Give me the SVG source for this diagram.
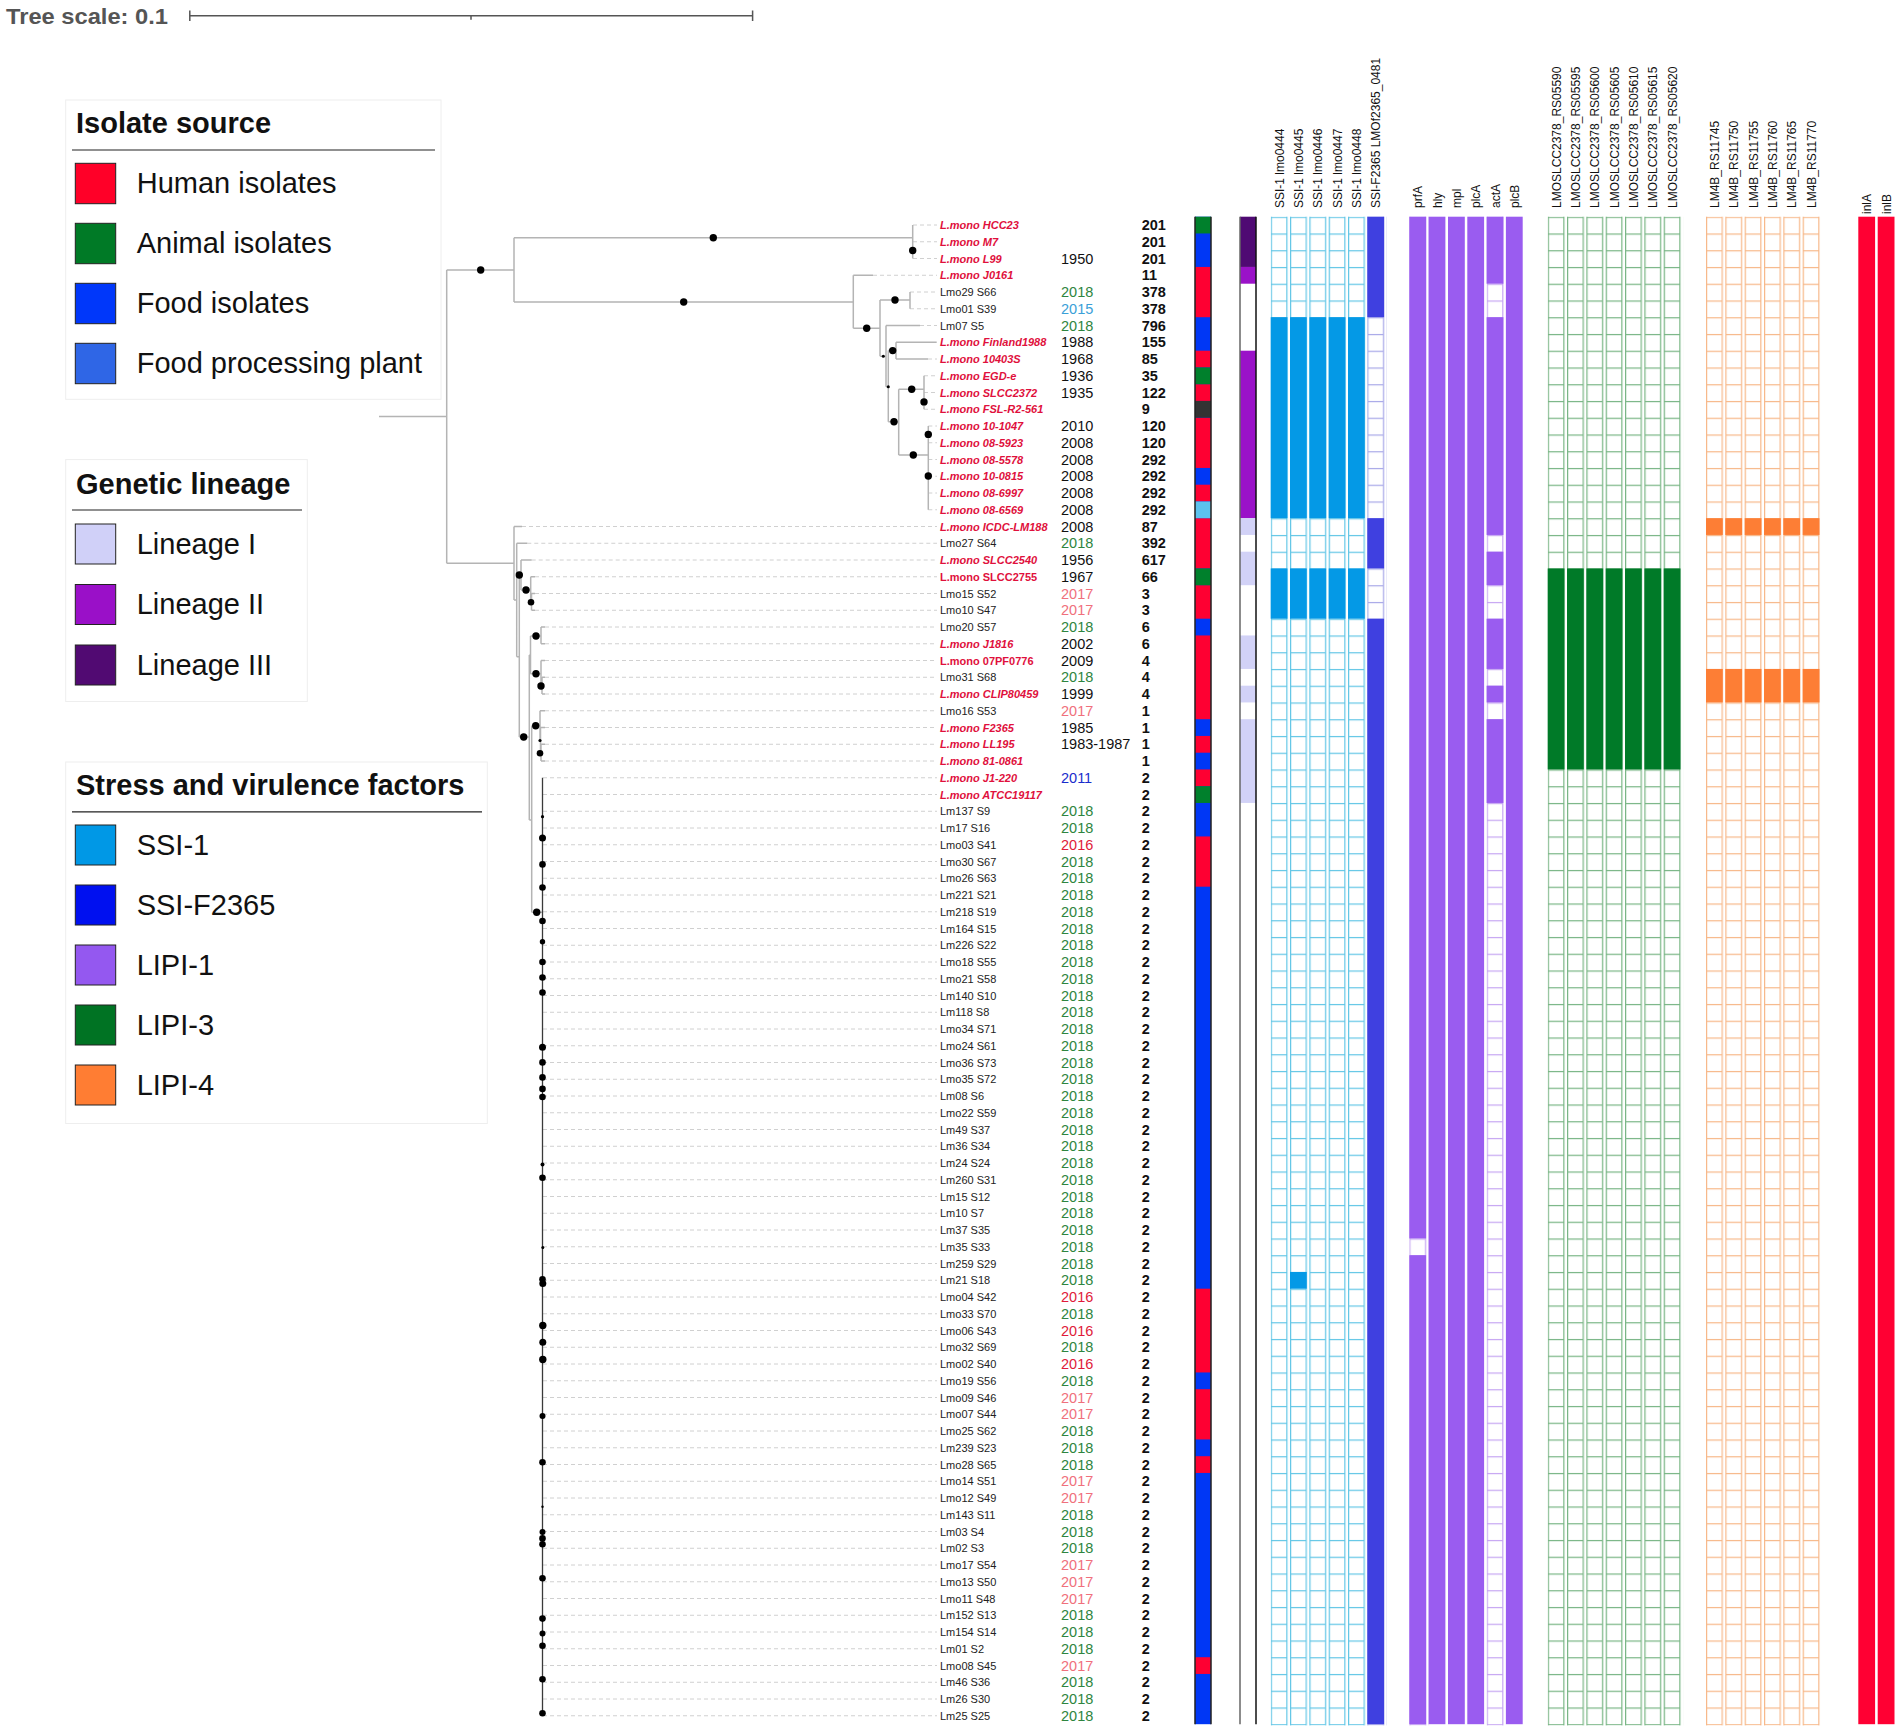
<svg xmlns="http://www.w3.org/2000/svg" width="1901" height="1732" viewBox="0 0 1901 1732">
<style>
text{font-family:"Liberation Sans",Arial,sans-serif}
.lr{font-size:11px;font-weight:bold;font-style:italic;fill:#e0103c}
.lu{font-size:11px;font-weight:bold;fill:#e0103c}
.lk{font-size:11px;fill:#222}
.yr{font-size:14.5px;fill:#111}
.g{fill:#2e8540}.p{fill:#f0707c}.r{fill:#e01a3a}.c{fill:#3aa0d8}.b{fill:#1a2ccc}
.st{font-size:14.5px;font-weight:bold;fill:#111}
.hd{font-size:12px;fill:#111}
.lt{font-size:29px;font-weight:bold;fill:#111}
.ll{font-size:29px;fill:#111}
.sw{stroke:#222;stroke-width:1}
</style>
<defs>
<pattern id="pSSI" patternUnits="userSpaceOnUse" x="1270.7" y="216.7" width="19.333" height="16.75"><rect x="0.6" y="0.6" width="15.6" height="16.75" fill="#fff" stroke="#62c6e6" stroke-width="1.2"/></pattern>
<pattern id="pF" patternUnits="userSpaceOnUse" x="1367.3" y="216.7" width="19.333" height="16.75"><rect x="0.6" y="0.6" width="15.6" height="16.75" fill="#fff" stroke="#a8a8e8" stroke-width="1.2"/></pattern>
<pattern id="pL1" patternUnits="userSpaceOnUse" x="1409.3" y="216.7" width="19.333" height="16.75"><rect x="0.6" y="0.6" width="15.6" height="16.75" fill="#fff" stroke="#c6a6f2" stroke-width="1.2"/></pattern>
<pattern id="pL3" patternUnits="userSpaceOnUse" x="1547.7" y="216.7" width="19.333" height="16.75"><rect x="0.6" y="0.6" width="15.6" height="16.75" fill="#fff" stroke="#78b584" stroke-width="1.2"/></pattern>
<pattern id="pL4" patternUnits="userSpaceOnUse" x="1706" y="216.7" width="19.333" height="16.75"><rect x="0.6" y="0.6" width="15.6" height="16.75" fill="#fff" stroke="#f7b889" stroke-width="1.2"/></pattern>
</defs>
<rect width="1901" height="1732" fill="#fff"/>

<g id="scale">
<text x="6" y="23.5" font-size="22" font-weight="bold" fill="#555" textLength="162" lengthAdjust="spacingAndGlyphs">Tree scale: 0.1</text>
<path d="M189.8,15.7H752.6M189.8,10.5V21M752.6,10.5V21M471,15.7V19.8" stroke="#555" stroke-width="1.5" fill="none"/>
</g>

<g id="legend-source">
<rect x="65.7" y="100" width="375.3" height="299.3" fill="#fff" stroke="#eee"/>
<text class="lt" x="76" y="133">Isolate source</text>
<path d="M72,150H435" stroke="#222" stroke-width="1.2"/>
<rect class="sw" x="75.3" y="163.3" width="40.4" height="40.4" fill="#ff0028"/>
<rect class="sw" x="75.3" y="223.3" width="40.4" height="40.4" fill="#007a26"/>
<rect class="sw" x="75.3" y="283.3" width="40.4" height="40.4" fill="#0037fa"/>
<rect class="sw" x="75.3" y="343.3" width="40.4" height="40.4" fill="#2f66e6"/>
<text class="ll" x="136.7" y="193">Human isolates</text>
<text class="ll" x="136.7" y="253">Animal isolates</text>
<text class="ll" x="136.7" y="313">Food isolates</text>
<text class="ll" x="136.7" y="373">Food processing plant</text>
</g>
<g id="legend-lineage">
<rect x="65.7" y="459.6" width="241.6" height="241.9" fill="#fff" stroke="#eee"/>
<text class="lt" x="76" y="493.6">Genetic lineage</text>
<path d="M72,510H302" stroke="#222" stroke-width="1.2"/>
<rect class="sw" x="75.3" y="524" width="40.4" height="40" fill="#d0d0f8"/>
<rect class="sw" x="75.3" y="584.5" width="40.4" height="40" fill="#9a10c8"/>
<rect class="sw" x="75.3" y="645" width="40.4" height="40" fill="#510a72"/>
<text class="ll" x="136.7" y="553.5">Lineage I</text>
<text class="ll" x="136.7" y="614">Lineage II</text>
<text class="ll" x="136.7" y="674.5">Lineage III</text>
</g>
<g id="legend-factors">
<rect x="65.7" y="762" width="421.6" height="361.5" fill="#fff" stroke="#eee"/>
<text class="lt" x="76" y="795.2">Stress and virulence factors</text>
<path d="M72,811.8H482" stroke="#222" stroke-width="1.2"/>
<rect class="sw" x="75.3" y="825" width="40.4" height="40" fill="#0098e6"/>
<rect class="sw" x="75.3" y="885" width="40.4" height="40" fill="#0010f0"/>
<rect class="sw" x="75.3" y="945" width="40.4" height="40" fill="#9458f0"/>
<rect class="sw" x="75.3" y="1005" width="40.4" height="40" fill="#007323"/>
<rect class="sw" x="75.3" y="1065" width="40.4" height="40" fill="#ff7d33"/>
<text class="ll" x="136.7" y="854.5">SSI-1</text>
<text class="ll" x="136.7" y="914.5">SSI-F2365</text>
<text class="ll" x="136.7" y="974.5">LIPI-1</text>
<text class="ll" x="136.7" y="1034.5">LIPI-3</text>
<text class="ll" x="136.7" y="1094.5">LIPI-4</text>
</g>

<g id="connectors">
<path fill="none" stroke="#d0d0d0" stroke-width="1" stroke-dasharray="4,3" d="M913,225H937M913,241.75H937M913,258.5H937M873,275.25H937M910,292H937M910,308.75H937M920,325.5H937M928,359H937M924,375.75H937M924,392.5H937M924,409.25H937M928.3,426H937M928.3,442.75H937M928.3,459.5H937M928.3,476.25H937M928.3,493H937M928.3,509.75H937M522,526.5H937M527.3,543.25H937M531.7,560H937M535,576.75H937M535,593.5H937M535,610.25H937M545,627H937M545,643.75H937M545,660.5H937M545,677.25H937M545,694H937M545,710.75H937M545,727.5H937M545,744.25H937M545,761H937M543,777.75H937M543,794.5H937M543,811.25H937M543,828H937M543,844.75H937M543,861.5H937M543,878.25H937M543,895H937M543,911.75H937M543,928.5H937M543,945.25H937M543,962H937M543,978.75H937M543,995.5H937M543,1012.25H937M543,1029H937M543,1045.75H937M543,1062.5H937M543,1079.25H937M543,1096H937M543,1112.75H937M543,1129.5H937M543,1146.25H937M543,1163H937M543,1179.75H937M543,1196.5H937M543,1213.25H937M543,1230H937M543,1246.75H937M543,1263.5H937M543,1280.25H937M543,1297H937M543,1313.75H937M543,1330.5H937M543,1347.25H937M543,1364H937M543,1380.75H937M543,1397.5H937M543,1414.25H937M543,1431H937M543,1447.75H937M543,1464.5H937M543,1481.25H937M543,1498H937M543,1514.75H937M543,1531.5H937M543,1548.25H937M543,1565H937M543,1581.75H937M543,1598.5H937M543,1615.25H937M543,1632H937M543,1648.75H937M543,1665.5H937M543,1682.25H937M543,1699H937M543,1715.75H937"/>
<path fill="none" stroke="#b4b4b4" stroke-width="1.5" d="M379,416.5H446.7M446.7,270V563.3M446.7,270H514M514,237.7V302M514,237.7H912.7M912.7,225V258.5M514,302H853.3M853.3,275.25V328.3M853.3,275.25H873M853.3,328.3H880M880,300V356.3M880,300H910M910,292V308.75M880,356.3H886M886,325.5V386.7M886,325.5H920M886,386.7H888.3M888.3,350.6V421.7M888.3,350.6H896M896,342.25V359M896,342.25H936.7M896,359H928M888.3,421.7H898.7M898.7,389.3V455M898.7,389.3H924M924,375.75V409.25M898.7,455H928.3M928.3,426V509.75"/>
<path fill="none" stroke="#b4b4b4" stroke-width="1.5" d="M446.7,563.3H514M514,526.5V600M514,526.5H522M514,600H516.7M516.7,543.25V656.7M516.7,543.25H527.3M516.7,656.7H519.3M519.3,575V737M519.3,575H521M521,560V590M521,560H531.7M521,590H530.7M530.7,576.75V602.3M530.7,576.75H535M530.7,602.3H531.5M531.5,593.5V610.25M531.5,593.5H535M531.5,610.25H535M519.3,737H529.3M529.3,655V820M529.3,655H530.5M530.5,636V673.7M530.5,636H541M541,627V643.75M541,627H545M541,643.75H545M530.5,673.7H541M541,660.5V685.6M541,660.5H545M541,685.6H542M542,677.25V694M542,677.25H545M542,694H545M529.3,820H531.7M531.7,725.7V912.3M531.7,725.7H540M540,710.75V740.3M540,710.75H545M540,740.3H540.5M540.5,727.5V752.6M540.5,727.5H545M540.5,752.6H541M541,744.25V761M541,744.25H545M541,761H545M531.7,912.3H542.5"/>
<path fill="none" stroke="#3a3a3a" stroke-width="1.3" d="M542.5,777.75V1715.75"/>
<g fill="#000">
<circle cx="480.7" cy="270" r="3.7"/><circle cx="713.3" cy="237.7" r="3.7"/><circle cx="912.7" cy="250.5" r="3.7"/><circle cx="683.7" cy="302" r="3.7"/><circle cx="866.7" cy="328.3" r="3.7"/><circle cx="895" cy="300" r="3.7"/><circle cx="883.3" cy="356.3" r="1.5"/><circle cx="892.7" cy="350.6" r="3.7"/><circle cx="888.3" cy="386.7" r="1.5"/><circle cx="894" cy="421.7" r="3.7"/><circle cx="911.7" cy="389.3" r="3.7"/><circle cx="924" cy="401.9" r="3.7"/><circle cx="913.3" cy="455" r="3.7"/><circle cx="928.3" cy="434.4" r="3.7"/><circle cx="928.3" cy="476" r="3.7"/>
<circle cx="519.3" cy="575" r="3.7"/><circle cx="526" cy="590" r="3.7"/><circle cx="531" cy="602.3" r="3.3"/><circle cx="536" cy="636" r="3.7"/><circle cx="536" cy="673.7" r="3.7"/><circle cx="541" cy="686" r="3.7"/><circle cx="535.7" cy="725.7" r="3.7"/><circle cx="540" cy="740.5" r="1.6"/><circle cx="540" cy="753.3" r="3.3"/><circle cx="523.7" cy="737" r="3.7"/><circle cx="536.7" cy="912.3" r="3.7"/>
<circle cx="542.5" cy="816.7" r="1.6"/><circle cx="542.5" cy="838" r="3.5"/><circle cx="542.5" cy="864.4" r="3.3"/><circle cx="542.5" cy="887.5" r="3.3"/><circle cx="542.5" cy="921" r="3.3"/><circle cx="542.5" cy="941.8" r="2.7"/><circle cx="542.5" cy="962" r="3.3"/><circle cx="542.5" cy="977.5" r="3.3"/><circle cx="542.5" cy="992.5" r="3.3"/><circle cx="542.5" cy="1047.3" r="3.5"/><circle cx="542.5" cy="1062.4" r="3.3"/><circle cx="542.5" cy="1077.4" r="3.3"/><circle cx="542.5" cy="1088.9" r="3.3"/><circle cx="542.5" cy="1097" r="3.3"/><circle cx="542.5" cy="1164.5" r="2"/><circle cx="542.5" cy="1177.8" r="3.3"/><circle cx="542.8" cy="1247.6" r="1.5"/><circle cx="542.5" cy="1279.3" r="3.3"/><circle cx="542.8" cy="1283.4" r="3.5"/><circle cx="542.8" cy="1325.5" r="3.7"/><circle cx="542.8" cy="1342.2" r="3.5"/><circle cx="542.8" cy="1359.5" r="3.7"/><circle cx="542.5" cy="1416" r="3"/><circle cx="542.5" cy="1462.3" r="3.3"/><circle cx="542.5" cy="1506.7" r="1.2"/><circle cx="542.5" cy="1532" r="3"/><circle cx="542.5" cy="1538.4" r="3.3"/><circle cx="542.5" cy="1544.2" r="3.3"/><circle cx="542.5" cy="1578.2" r="3.3"/><circle cx="542.5" cy="1618.6" r="3.3"/><circle cx="542.5" cy="1633.6" r="3"/><circle cx="542.5" cy="1645.7" r="3.3"/><circle cx="542.5" cy="1679.2" r="3.3"/><circle cx="542.5" cy="1713.2" r="3.3"/>
</g>
</g>

<g id="leaves">
<g id="r0" transform="translate(0,225)"><text class="lr" x="940" y="4">L.mono HCC23</text><text class="st" x="1141.7" y="5">201</text></g>
<g id="r1" transform="translate(0,241.75)"><text class="lr" x="940" y="4">L.mono M7</text><text class="st" x="1141.7" y="5">201</text></g>
<g id="r2" transform="translate(0,258.5)"><text class="lr" x="940" y="4">L.mono L99</text><text class="yr" x="1061" y="5">1950</text><text class="st" x="1141.7" y="5">201</text></g>
<g id="r3" transform="translate(0,275.25)"><text class="lr" x="940" y="4">L.mono J0161</text><text class="st" x="1141.7" y="5">11</text></g>
<g id="r4" transform="translate(0,292)"><text class="lk" x="940" y="4">Lmo29 S66</text><text class="yr g" x="1061" y="5">2018</text><text class="st" x="1141.7" y="5">378</text></g>
<g id="r5" transform="translate(0,308.75)"><text class="lk" x="940" y="4">Lmo01 S39</text><text class="yr c" x="1061" y="5">2015</text><text class="st" x="1141.7" y="5">378</text></g>
<g id="r6" transform="translate(0,325.5)"><text class="lk" x="940" y="4">Lm07 S5</text><text class="yr g" x="1061" y="5">2018</text><text class="st" x="1141.7" y="5">796</text></g>
<g id="r7" transform="translate(0,342.25)"><text class="lr" x="940" y="4">L.mono Finland1988</text><text class="yr" x="1061" y="5">1988</text><text class="st" x="1141.7" y="5">155</text></g>
<g id="r8" transform="translate(0,359)"><text class="lr" x="940" y="4">L.mono 10403S</text><text class="yr" x="1061" y="5">1968</text><text class="st" x="1141.7" y="5">85</text></g>
<g id="r9" transform="translate(0,375.75)"><text class="lr" x="940" y="4">L.mono EGD-e</text><text class="yr" x="1061" y="5">1936</text><text class="st" x="1141.7" y="5">35</text></g>
<g id="r10" transform="translate(0,392.5)"><text class="lr" x="940" y="4">L.mono SLCC2372</text><text class="yr" x="1061" y="5">1935</text><text class="st" x="1141.7" y="5">122</text></g>
<g id="r11" transform="translate(0,409.25)"><text class="lr" x="940" y="4">L.mono FSL-R2-561</text><text class="st" x="1141.7" y="5">9</text></g>
<g id="r12" transform="translate(0,426)"><text class="lr" x="940" y="4">L.mono 10-1047</text><text class="yr" x="1061" y="5">2010</text><text class="st" x="1141.7" y="5">120</text></g>
<g id="r13" transform="translate(0,442.75)"><text class="lr" x="940" y="4">L.mono 08-5923</text><text class="yr" x="1061" y="5">2008</text><text class="st" x="1141.7" y="5">120</text></g>
<g id="r14" transform="translate(0,459.5)"><text class="lr" x="940" y="4">L.mono 08-5578</text><text class="yr" x="1061" y="5">2008</text><text class="st" x="1141.7" y="5">292</text></g>
<g id="r15" transform="translate(0,476.25)"><text class="lr" x="940" y="4">L.mono 10-0815</text><text class="yr" x="1061" y="5">2008</text><text class="st" x="1141.7" y="5">292</text></g>
<g id="r16" transform="translate(0,493)"><text class="lr" x="940" y="4">L.mono 08-6997</text><text class="yr" x="1061" y="5">2008</text><text class="st" x="1141.7" y="5">292</text></g>
<g id="r17" transform="translate(0,509.75)"><text class="lr" x="940" y="4">L.mono 08-6569</text><text class="yr" x="1061" y="5">2008</text><text class="st" x="1141.7" y="5">292</text></g>
<g id="r18" transform="translate(0,526.5)"><text class="lr" x="940" y="4">L.mono ICDC-LM188</text><text class="yr" x="1061" y="5">2008</text><text class="st" x="1141.7" y="5">87</text></g>
<g id="r19" transform="translate(0,543.25)"><text class="lk" x="940" y="4">Lmo27 S64</text><text class="yr g" x="1061" y="5">2018</text><text class="st" x="1141.7" y="5">392</text></g>
<g id="r20" transform="translate(0,560)"><text class="lr" x="940" y="4">L.mono SLCC2540</text><text class="yr" x="1061" y="5">1956</text><text class="st" x="1141.7" y="5">617</text></g>
<g id="r21" transform="translate(0,576.75)"><text class="lu" x="940" y="4">L.mono SLCC2755</text><text class="yr" x="1061" y="5">1967</text><text class="st" x="1141.7" y="5">66</text></g>
<g id="r22" transform="translate(0,593.5)"><text class="lk" x="940" y="4">Lmo15 S52</text><text class="yr p" x="1061" y="5">2017</text><text class="st" x="1141.7" y="5">3</text></g>
<g id="r23" transform="translate(0,610.25)"><text class="lk" x="940" y="4">Lmo10 S47</text><text class="yr p" x="1061" y="5">2017</text><text class="st" x="1141.7" y="5">3</text></g>
<g id="r24" transform="translate(0,627)"><text class="lk" x="940" y="4">Lmo20 S57</text><text class="yr g" x="1061" y="5">2018</text><text class="st" x="1141.7" y="5">6</text></g>
<g id="r25" transform="translate(0,643.75)"><text class="lr" x="940" y="4">L.mono J1816</text><text class="yr" x="1061" y="5">2002</text><text class="st" x="1141.7" y="5">6</text></g>
<g id="r26" transform="translate(0,660.5)"><text class="lu" x="940" y="4">L.mono 07PF0776</text><text class="yr" x="1061" y="5">2009</text><text class="st" x="1141.7" y="5">4</text></g>
<g id="r27" transform="translate(0,677.25)"><text class="lk" x="940" y="4">Lmo31 S68</text><text class="yr g" x="1061" y="5">2018</text><text class="st" x="1141.7" y="5">4</text></g>
<g id="r28" transform="translate(0,694)"><text class="lr" x="940" y="4">L.mono CLIP80459</text><text class="yr" x="1061" y="5">1999</text><text class="st" x="1141.7" y="5">4</text></g>
<g id="r29" transform="translate(0,710.75)"><text class="lk" x="940" y="4">Lmo16 S53</text><text class="yr p" x="1061" y="5">2017</text><text class="st" x="1141.7" y="5">1</text></g>
<g id="r30" transform="translate(0,727.5)"><text class="lr" x="940" y="4">L.mono F2365</text><text class="yr" x="1061" y="5">1985</text><text class="st" x="1141.7" y="5">1</text></g>
<g id="r31" transform="translate(0,744.25)"><text class="lr" x="940" y="4">L.mono LL195</text><text class="yr" x="1061" y="5">1983-1987</text><text class="st" x="1141.7" y="5">1</text></g>
<g id="r32" transform="translate(0,761)"><text class="lr" x="940" y="4">L.mono 81-0861</text><text class="st" x="1141.7" y="5">1</text></g>
<g id="r33" transform="translate(0,777.75)"><text class="lr" x="940" y="4">L.mono J1-220</text><text class="yr b" x="1061" y="5">2011</text><text class="st" x="1141.7" y="5">2</text></g>
<g id="r34" transform="translate(0,794.5)"><text class="lr" x="940" y="4">L.mono ATCC19117</text><text class="st" x="1141.7" y="5">2</text></g>
<g id="r35" transform="translate(0,811.25)"><text class="lk" x="940" y="4">Lm137 S9</text><text class="yr g" x="1061" y="5">2018</text><text class="st" x="1141.7" y="5">2</text></g>
<g id="r36" transform="translate(0,828)"><text class="lk" x="940" y="4">Lm17 S16</text><text class="yr g" x="1061" y="5">2018</text><text class="st" x="1141.7" y="5">2</text></g>
<g id="r37" transform="translate(0,844.75)"><text class="lk" x="940" y="4">Lmo03 S41</text><text class="yr r" x="1061" y="5">2016</text><text class="st" x="1141.7" y="5">2</text></g>
<g id="r38" transform="translate(0,861.5)"><text class="lk" x="940" y="4">Lmo30 S67</text><text class="yr g" x="1061" y="5">2018</text><text class="st" x="1141.7" y="5">2</text></g>
<g id="r39" transform="translate(0,878.25)"><text class="lk" x="940" y="4">Lmo26 S63</text><text class="yr g" x="1061" y="5">2018</text><text class="st" x="1141.7" y="5">2</text></g>
<g id="r40" transform="translate(0,895)"><text class="lk" x="940" y="4">Lm221 S21</text><text class="yr g" x="1061" y="5">2018</text><text class="st" x="1141.7" y="5">2</text></g>
<g id="r41" transform="translate(0,911.75)"><text class="lk" x="940" y="4">Lm218 S19</text><text class="yr g" x="1061" y="5">2018</text><text class="st" x="1141.7" y="5">2</text></g>
<g id="r42" transform="translate(0,928.5)"><text class="lk" x="940" y="4">Lm164 S15</text><text class="yr g" x="1061" y="5">2018</text><text class="st" x="1141.7" y="5">2</text></g>
<g id="r43" transform="translate(0,945.25)"><text class="lk" x="940" y="4">Lm226 S22</text><text class="yr g" x="1061" y="5">2018</text><text class="st" x="1141.7" y="5">2</text></g>
<g id="r44" transform="translate(0,962)"><text class="lk" x="940" y="4">Lmo18 S55</text><text class="yr g" x="1061" y="5">2018</text><text class="st" x="1141.7" y="5">2</text></g>
<g id="r45" transform="translate(0,978.75)"><text class="lk" x="940" y="4">Lmo21 S58</text><text class="yr g" x="1061" y="5">2018</text><text class="st" x="1141.7" y="5">2</text></g>
<g id="r46" transform="translate(0,995.5)"><text class="lk" x="940" y="4">Lm140 S10</text><text class="yr g" x="1061" y="5">2018</text><text class="st" x="1141.7" y="5">2</text></g>
<g id="r47" transform="translate(0,1012.25)"><text class="lk" x="940" y="4">Lm118 S8</text><text class="yr g" x="1061" y="5">2018</text><text class="st" x="1141.7" y="5">2</text></g>
<g id="r48" transform="translate(0,1029)"><text class="lk" x="940" y="4">Lmo34 S71</text><text class="yr g" x="1061" y="5">2018</text><text class="st" x="1141.7" y="5">2</text></g>
<g id="r49" transform="translate(0,1045.75)"><text class="lk" x="940" y="4">Lmo24 S61</text><text class="yr g" x="1061" y="5">2018</text><text class="st" x="1141.7" y="5">2</text></g>
<g id="r50" transform="translate(0,1062.5)"><text class="lk" x="940" y="4">Lmo36 S73</text><text class="yr g" x="1061" y="5">2018</text><text class="st" x="1141.7" y="5">2</text></g>
<g id="r51" transform="translate(0,1079.25)"><text class="lk" x="940" y="4">Lmo35 S72</text><text class="yr g" x="1061" y="5">2018</text><text class="st" x="1141.7" y="5">2</text></g>
<g id="r52" transform="translate(0,1096)"><text class="lk" x="940" y="4">Lm08 S6</text><text class="yr g" x="1061" y="5">2018</text><text class="st" x="1141.7" y="5">2</text></g>
<g id="r53" transform="translate(0,1112.75)"><text class="lk" x="940" y="4">Lmo22 S59</text><text class="yr g" x="1061" y="5">2018</text><text class="st" x="1141.7" y="5">2</text></g>
<g id="r54" transform="translate(0,1129.5)"><text class="lk" x="940" y="4">Lm49 S37</text><text class="yr g" x="1061" y="5">2018</text><text class="st" x="1141.7" y="5">2</text></g>
<g id="r55" transform="translate(0,1146.25)"><text class="lk" x="940" y="4">Lm36 S34</text><text class="yr g" x="1061" y="5">2018</text><text class="st" x="1141.7" y="5">2</text></g>
<g id="r56" transform="translate(0,1163)"><text class="lk" x="940" y="4">Lm24 S24</text><text class="yr g" x="1061" y="5">2018</text><text class="st" x="1141.7" y="5">2</text></g>
<g id="r57" transform="translate(0,1179.75)"><text class="lk" x="940" y="4">Lm260 S31</text><text class="yr g" x="1061" y="5">2018</text><text class="st" x="1141.7" y="5">2</text></g>
<g id="r58" transform="translate(0,1196.5)"><text class="lk" x="940" y="4">Lm15 S12</text><text class="yr g" x="1061" y="5">2018</text><text class="st" x="1141.7" y="5">2</text></g>
<g id="r59" transform="translate(0,1213.25)"><text class="lk" x="940" y="4">Lm10 S7</text><text class="yr g" x="1061" y="5">2018</text><text class="st" x="1141.7" y="5">2</text></g>
<g id="r60" transform="translate(0,1230)"><text class="lk" x="940" y="4">Lm37 S35</text><text class="yr g" x="1061" y="5">2018</text><text class="st" x="1141.7" y="5">2</text></g>
<g id="r61" transform="translate(0,1246.75)"><text class="lk" x="940" y="4">Lm35 S33</text><text class="yr g" x="1061" y="5">2018</text><text class="st" x="1141.7" y="5">2</text></g>
<g id="r62" transform="translate(0,1263.5)"><text class="lk" x="940" y="4">Lm259 S29</text><text class="yr g" x="1061" y="5">2018</text><text class="st" x="1141.7" y="5">2</text></g>
<g id="r63" transform="translate(0,1280.25)"><text class="lk" x="940" y="4">Lm21 S18</text><text class="yr g" x="1061" y="5">2018</text><text class="st" x="1141.7" y="5">2</text></g>
<g id="r64" transform="translate(0,1297)"><text class="lk" x="940" y="4">Lmo04 S42</text><text class="yr r" x="1061" y="5">2016</text><text class="st" x="1141.7" y="5">2</text></g>
<g id="r65" transform="translate(0,1313.75)"><text class="lk" x="940" y="4">Lmo33 S70</text><text class="yr g" x="1061" y="5">2018</text><text class="st" x="1141.7" y="5">2</text></g>
<g id="r66" transform="translate(0,1330.5)"><text class="lk" x="940" y="4">Lmo06 S43</text><text class="yr r" x="1061" y="5">2016</text><text class="st" x="1141.7" y="5">2</text></g>
<g id="r67" transform="translate(0,1347.25)"><text class="lk" x="940" y="4">Lmo32 S69</text><text class="yr g" x="1061" y="5">2018</text><text class="st" x="1141.7" y="5">2</text></g>
<g id="r68" transform="translate(0,1364)"><text class="lk" x="940" y="4">Lmo02 S40</text><text class="yr r" x="1061" y="5">2016</text><text class="st" x="1141.7" y="5">2</text></g>
<g id="r69" transform="translate(0,1380.75)"><text class="lk" x="940" y="4">Lmo19 S56</text><text class="yr g" x="1061" y="5">2018</text><text class="st" x="1141.7" y="5">2</text></g>
<g id="r70" transform="translate(0,1397.5)"><text class="lk" x="940" y="4">Lmo09 S46</text><text class="yr p" x="1061" y="5">2017</text><text class="st" x="1141.7" y="5">2</text></g>
<g id="r71" transform="translate(0,1414.25)"><text class="lk" x="940" y="4">Lmo07 S44</text><text class="yr p" x="1061" y="5">2017</text><text class="st" x="1141.7" y="5">2</text></g>
<g id="r72" transform="translate(0,1431)"><text class="lk" x="940" y="4">Lmo25 S62</text><text class="yr g" x="1061" y="5">2018</text><text class="st" x="1141.7" y="5">2</text></g>
<g id="r73" transform="translate(0,1447.75)"><text class="lk" x="940" y="4">Lm239 S23</text><text class="yr g" x="1061" y="5">2018</text><text class="st" x="1141.7" y="5">2</text></g>
<g id="r74" transform="translate(0,1464.5)"><text class="lk" x="940" y="4">Lmo28 S65</text><text class="yr g" x="1061" y="5">2018</text><text class="st" x="1141.7" y="5">2</text></g>
<g id="r75" transform="translate(0,1481.25)"><text class="lk" x="940" y="4">Lmo14 S51</text><text class="yr p" x="1061" y="5">2017</text><text class="st" x="1141.7" y="5">2</text></g>
<g id="r76" transform="translate(0,1498)"><text class="lk" x="940" y="4">Lmo12 S49</text><text class="yr p" x="1061" y="5">2017</text><text class="st" x="1141.7" y="5">2</text></g>
<g id="r77" transform="translate(0,1514.75)"><text class="lk" x="940" y="4">Lm143 S11</text><text class="yr g" x="1061" y="5">2018</text><text class="st" x="1141.7" y="5">2</text></g>
<g id="r78" transform="translate(0,1531.5)"><text class="lk" x="940" y="4">Lm03 S4</text><text class="yr g" x="1061" y="5">2018</text><text class="st" x="1141.7" y="5">2</text></g>
<g id="r79" transform="translate(0,1548.25)"><text class="lk" x="940" y="4">Lm02 S3</text><text class="yr g" x="1061" y="5">2018</text><text class="st" x="1141.7" y="5">2</text></g>
<g id="r80" transform="translate(0,1565)"><text class="lk" x="940" y="4">Lmo17 S54</text><text class="yr p" x="1061" y="5">2017</text><text class="st" x="1141.7" y="5">2</text></g>
<g id="r81" transform="translate(0,1581.75)"><text class="lk" x="940" y="4">Lmo13 S50</text><text class="yr p" x="1061" y="5">2017</text><text class="st" x="1141.7" y="5">2</text></g>
<g id="r82" transform="translate(0,1598.5)"><text class="lk" x="940" y="4">Lmo11 S48</text><text class="yr p" x="1061" y="5">2017</text><text class="st" x="1141.7" y="5">2</text></g>
<g id="r83" transform="translate(0,1615.25)"><text class="lk" x="940" y="4">Lm152 S13</text><text class="yr g" x="1061" y="5">2018</text><text class="st" x="1141.7" y="5">2</text></g>
<g id="r84" transform="translate(0,1632)"><text class="lk" x="940" y="4">Lm154 S14</text><text class="yr g" x="1061" y="5">2018</text><text class="st" x="1141.7" y="5">2</text></g>
<g id="r85" transform="translate(0,1648.75)"><text class="lk" x="940" y="4">Lm01 S2</text><text class="yr g" x="1061" y="5">2018</text><text class="st" x="1141.7" y="5">2</text></g>
<g id="r86" transform="translate(0,1665.5)"><text class="lk" x="940" y="4">Lmo08 S45</text><text class="yr p" x="1061" y="5">2017</text><text class="st" x="1141.7" y="5">2</text></g>
<g id="r87" transform="translate(0,1682.25)"><text class="lk" x="940" y="4">Lm46 S36</text><text class="yr g" x="1061" y="5">2018</text><text class="st" x="1141.7" y="5">2</text></g>
<g id="r88" transform="translate(0,1699)"><text class="lk" x="940" y="4">Lm26 S30</text><text class="yr g" x="1061" y="5">2018</text><text class="st" x="1141.7" y="5">2</text></g>
<g id="r89" transform="translate(0,1715.75)"><text class="lk" x="940" y="4">Lm25 S25</text><text class="yr g" x="1061" y="5">2018</text><text class="st" x="1141.7" y="5">2</text></g>
</g>

<g id="source-strip">
<rect x="1195" y="216.7" width="16" height="1507.5" fill="#0037f5"/>
<g fill="#fe0032">
<rect x="1195" y="266.95" width="16" height="50.25"/><rect x="1195" y="350.7" width="16" height="16.75"/><rect x="1195" y="384.2" width="16" height="16.75"/><rect x="1195" y="417.7" width="16" height="50.25"/><rect x="1195" y="484.7" width="16" height="16.75"/><rect x="1195" y="518.2" width="16" height="50.25"/><rect x="1195" y="585.2" width="16" height="33.5"/><rect x="1195" y="635.45" width="16" height="83.75"/><rect x="1195" y="735.95" width="16" height="16.75"/><rect x="1195" y="769.45" width="16" height="16.75"/><rect x="1195" y="836.45" width="16" height="50.25"/><rect x="1195" y="1288.7" width="16" height="83.75"/><rect x="1195" y="1389.2" width="16" height="50.25"/><rect x="1195" y="1456.2" width="16" height="16.75"/><rect x="1195" y="1657.2" width="16" height="16.75"/>
</g>
<g fill="#00802c"><rect x="1195" y="216.7" width="16" height="16.75"/><rect x="1195" y="367.45" width="16" height="16.75"/><rect x="1195" y="568.45" width="16" height="16.75"/><rect x="1195" y="786.2" width="16" height="16.75"/></g>
<rect x="1195" y="400.95" width="16" height="16.75" fill="#333"/>
<rect x="1195" y="501.45" width="16" height="16.75" fill="#5cc2ee"/>
<path d="M1195,216.7V1724.2M1211,216.7V1724.2" stroke="#222" stroke-width="1.5"/>
</g>

<g id="lineage-strip">
<rect x="1240" y="216.7" width="16" height="50.25" fill="#4f0a73"/>
<rect x="1240" y="266.95" width="16" height="16.75" fill="#9a12c8"/>
<rect x="1240" y="350.7" width="16" height="167.5" fill="#9a12c8"/>
<g fill="#d2d2f7"><rect x="1240" y="518.2" width="16" height="16.75"/><rect x="1240" y="551.7" width="16" height="33.5"/><rect x="1240" y="635.45" width="16" height="33.5"/><rect x="1240" y="685.7" width="16" height="16.75"/><rect x="1240" y="719.2" width="16" height="83.75"/></g>
<path d="M1240,216.7V1724.2" stroke="#666" stroke-width="1.5"/>
<path d="M1256,216.7V1724.2" stroke="#111" stroke-width="1.5"/>
</g>

<g id="heatmap">
<rect x="1270.7" y="216.7" width="96.67" height="1508.7" fill="url(#pSSI)"/>
<g fill="#0499e6">
<rect x="1270.7" y="317.2" width="16.8" height="201"/><rect x="1290" y="317.2" width="16.8" height="201"/><rect x="1309.4" y="317.2" width="16.8" height="201"/><rect x="1328.7" y="317.2" width="16.8" height="201"/><rect x="1348" y="317.2" width="16.8" height="201"/>
<rect x="1270.7" y="568.45" width="16.8" height="50.25"/><rect x="1290" y="568.45" width="16.8" height="50.25"/><rect x="1309.4" y="568.45" width="16.8" height="50.25"/><rect x="1328.7" y="568.45" width="16.8" height="50.25"/><rect x="1348" y="568.45" width="16.8" height="50.25"/>
<rect x="1290" y="1271.95" width="16.8" height="16.75"/>
</g>
<rect x="1367.3" y="216.7" width="19.333" height="1508.7" fill="url(#pF)"/>
<g fill="#3f40e0"><rect x="1367.3" y="216.7" width="16.8" height="100.5"/><rect x="1367.3" y="518.2" width="16.8" height="50.25"/><rect x="1367.3" y="618.7" width="16.8" height="1105.5"/></g>
<rect x="1409.3" y="216.7" width="19.333" height="1508.7" fill="url(#pL1)"/>
<rect x="1486.6" y="216.7" width="19.333" height="1508.7" fill="url(#pL1)"/>
<g fill="#9a5cf0">
<rect x="1409.3" y="216.7" width="16.8" height="1021.75"/><rect x="1409.3" y="1255.2" width="16.8" height="469"/>
<rect x="1428.6" y="216.7" width="16.8" height="1507.5"/><rect x="1448" y="216.7" width="16.8" height="1507.5"/><rect x="1467.3" y="216.7" width="16.8" height="1507.5"/><rect x="1505.9" y="216.7" width="16.8" height="1507.5"/>
<rect x="1486.6" y="216.7" width="16.8" height="67"/><rect x="1486.6" y="317.2" width="16.8" height="217.75"/><rect x="1486.6" y="551.7" width="16.8" height="33.5"/><rect x="1486.6" y="618.7" width="16.8" height="50.25"/><rect x="1486.6" y="685.7" width="16.8" height="16.75"/><rect x="1486.6" y="719.2" width="16.8" height="83.75"/>
</g>
<rect x="1547.7" y="216.7" width="135.33" height="1508.7" fill="url(#pL3)"/>
<g fill="#007a28">
<rect x="1547.7" y="568.45" width="16.8" height="201"/><rect x="1567" y="568.45" width="16.8" height="201"/><rect x="1586.4" y="568.45" width="16.8" height="201"/><rect x="1605.7" y="568.45" width="16.8" height="201"/><rect x="1625" y="568.45" width="16.8" height="201"/><rect x="1644.4" y="568.45" width="16.8" height="201"/><rect x="1663.7" y="568.45" width="16.8" height="201"/>
</g>
<rect x="1706" y="216.7" width="116" height="1508.7" fill="url(#pL4)"/>
<g fill="#fd7e35">
<rect x="1706" y="518.2" width="16.8" height="16.75"/><rect x="1725.3" y="518.2" width="16.8" height="16.75"/><rect x="1744.7" y="518.2" width="16.8" height="16.75"/><rect x="1764" y="518.2" width="16.8" height="16.75"/><rect x="1783.3" y="518.2" width="16.8" height="16.75"/><rect x="1802.7" y="518.2" width="16.8" height="16.75"/>
<rect x="1706" y="668.95" width="16.8" height="33.5"/><rect x="1725.3" y="668.95" width="16.8" height="33.5"/><rect x="1744.7" y="668.95" width="16.8" height="33.5"/><rect x="1764" y="668.95" width="16.8" height="33.5"/><rect x="1783.3" y="668.95" width="16.8" height="33.5"/><rect x="1802.7" y="668.95" width="16.8" height="33.5"/>
</g>
<g fill="#ff0033"><rect x="1858.3" y="216.7" width="16.8" height="1507.5"/><rect x="1877.7" y="216.7" width="16.8" height="1507.5"/></g>
</g>

<g id="headers" class="hd">
<text class="hd" transform="translate(1283.5,208) rotate(-90)">SSI-1 lmo0444</text>
<text class="hd" transform="translate(1302.8,208) rotate(-90)">SSI-1 lmo0445</text>
<text class="hd" transform="translate(1322.2,208) rotate(-90)">SSI-1 lmo0446</text>
<text class="hd" transform="translate(1341.5,208) rotate(-90)">SSI-1 lmo0447</text>
<text class="hd" transform="translate(1360.8,208) rotate(-90)">SSI-1 lmo0448</text>
<text class="hd" transform="translate(1380.1,208) rotate(-90)">SSI-F2365 LMOf2365_0481</text>
<text class="hd" transform="translate(1422.1,208) rotate(-90)">prfA</text>
<text class="hd" transform="translate(1441.5,208) rotate(-90)">hly</text>
<text class="hd" transform="translate(1460.8,208) rotate(-90)">mpl</text>
<text class="hd" transform="translate(1480.1,208) rotate(-90)">plcA</text>
<text class="hd" transform="translate(1499.5,208) rotate(-90)">actA</text>
<text class="hd" transform="translate(1518.8,208) rotate(-90)">plcB</text>
<text class="hd" transform="translate(1560.5,208) rotate(-90)">LMOSLCC2378_RS05590</text>
<text class="hd" transform="translate(1579.8,208) rotate(-90)">LMOSLCC2378_RS05595</text>
<text class="hd" transform="translate(1599.1,208) rotate(-90)">LMOSLCC2378_RS05600</text>
<text class="hd" transform="translate(1618.5,208) rotate(-90)">LMOSLCC2378_RS05605</text>
<text class="hd" transform="translate(1637.8,208) rotate(-90)">LMOSLCC2378_RS05610</text>
<text class="hd" transform="translate(1657.1,208) rotate(-90)">LMOSLCC2378_RS05615</text>
<text class="hd" transform="translate(1676.5,208) rotate(-90)">LMOSLCC2378_RS05620</text>
<text class="hd" transform="translate(1718.8,208) rotate(-90)">LM4B_RS11745</text>
<text class="hd" transform="translate(1738.1,208) rotate(-90)">LM4B_RS11750</text>
<text class="hd" transform="translate(1757.5,208) rotate(-90)">LM4B_RS11755</text>
<text class="hd" transform="translate(1776.8,208) rotate(-90)">LM4B_RS11760</text>
<text class="hd" transform="translate(1796.1,208) rotate(-90)">LM4B_RS11765</text>
<text class="hd" transform="translate(1815.5,208) rotate(-90)">LM4B_RS11770</text>
<text class="hd" transform="translate(1871.1,214) rotate(-90)">inlA</text>
<text class="hd" transform="translate(1890.5,214) rotate(-90)">inlB</text>
</g>
</svg>
